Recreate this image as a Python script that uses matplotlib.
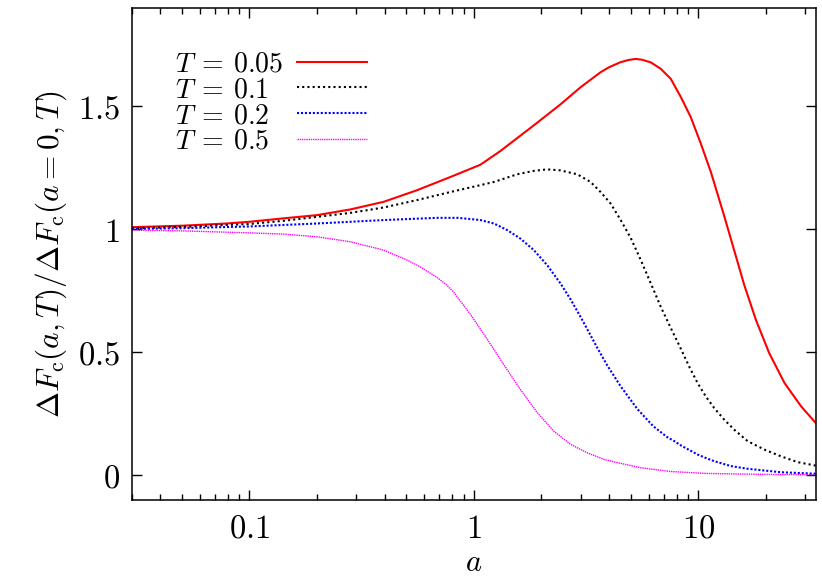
import matplotlib
matplotlib.use("Agg")
import matplotlib.pyplot as plt
from matplotlib.ticker import FixedLocator, FixedFormatter, LogLocator, NullFormatter

plt.rcParams['mathtext.fontset'] = 'cm'
plt.rcParams['font.family'] = ['DejaVu Serif']

# T = 0.05
a_005 = [0.03, 0.05, 0.079, 0.1, 0.142, 0.2, 0.281, 0.396, 0.557, 0.786, 1.07, 1.31, 1.85,
         2.43, 2.99, 3.67, 4.0, 4.51, 4.9, 5.26, 5.6, 6.14, 6.80, 7.54, 8.36, 9.26, 10.26, 11.37, 12.60,
         13.04, 14.45, 16.01, 18.06, 20.7, 24.2, 28.7, 33.3]
y_005 = [1.009, 1.015, 1.024, 1.031, 1.045, 1.058, 1.081, 1.112, 1.159, 1.213, 1.263, 1.318, 1.423,
         1.508, 1.578, 1.639, 1.659, 1.680, 1.689, 1.693, 1.690, 1.679, 1.653, 1.612, 1.538, 1.456, 1.349, 1.234, 1.100,
         1.055, 0.915, 0.775, 0.632, 0.497, 0.376, 0.281, 0.214]
# T = 0.1
a_01 = [0.03, 0.05, 0.1, 0.142, 0.2, 0.281, 0.396, 0.557, 0.786, 1.07, 1.23, 1.56, 1.85, 2.12,
        2.43, 2.89, 3.31, 3.67, 4.07, 4.51, 5.0, 5.54, 6.14, 6.80, 7.54, 8.20, 9.10, 9.92, 10.80,
        11.77, 13.04, 14.45, 16.6, 19.7, 23.3, 27.7, 33.3]
y_01 = [1.005, 1.010, 1.022, 1.035, 1.051, 1.067, 1.089, 1.119, 1.152, 1.180, 1.193, 1.224, 1.238, 1.244,
        1.240, 1.224, 1.193, 1.152, 1.105, 1.038, 0.965, 0.876, 0.781, 0.686, 0.599, 0.531, 0.443, 0.376, 0.321,
        0.274, 0.227, 0.186, 0.139, 0.105, 0.078, 0.054, 0.040]
# T = 0.2
a_02 = [0.03, 0.05, 0.1, 0.2, 0.396, 0.685, 0.85, 1.07, 1.23, 1.41, 1.61, 1.85, 2.12, 2.43, 2.70,
        2.99, 3.31, 3.55, 3.93, 4.51, 5.35, 6.3, 7.28, 7.8, 8.36, 9.92, 11.0, 11.77, 13.96, 16.6,
        23.3, 33.3]
y_02 = [1.002, 1.005, 1.012, 1.024, 1.038, 1.047, 1.047, 1.038, 1.024, 0.997, 0.963, 0.916, 0.855, 0.781, 0.715,
        0.644, 0.570, 0.518, 0.447, 0.362, 0.270, 0.200, 0.155, 0.140, 0.122, 0.085, 0.068, 0.058, 0.038, 0.027,
        0.013, 0.007]
# T = 0.5
a_05 = [0.03, 0.05, 0.1, 0.142, 0.2, 0.281, 0.396, 0.503, 0.577, 0.685, 0.75, 0.813, 0.965, 1.145, 1.36,
        1.61, 1.91, 2.27, 2.70, 3.20, 3.80, 4.51, 5.54, 7.5, 10.9, 20.0, 33.3]
y_05 = [0.997, 0.994, 0.986, 0.981, 0.970, 0.950, 0.916, 0.876, 0.848, 0.805, 0.777, 0.745, 0.655, 0.555, 0.450,
        0.350, 0.257, 0.180, 0.126, 0.092, 0.065, 0.049, 0.031, 0.016, 0.008, 0.004, 0.003]

labels = [r"$T\:=\:0.05$", r"$T\:=\:0.1$", r"$T\:=\:0.2$", r"$T\:=\:0.5$"]
xticks = [0.1, 1, 10]
xticklabels = [r"$0.1$", r"$1$", r"$10$"]
yticks = [0, 0.5, 1, 1.5]
yticklabels = [r"$0$", r"$0.5$", r"$1$", r"$1.5$"]

fig = plt.figure(figsize=(8.22, 5.8), dpi=100)
ax = fig.add_axes([0.1606, 0.1379, 0.9923 - 0.1606, 0.9862 - 0.1379])

l1, = ax.plot(a_005, y_005, color='#ff0000', lw=1.5, linestyle='-')
l2, = ax.plot(a_01, y_01, color='black', lw=1.5, linestyle=(0, (1, 1.5)))
l3, = ax.plot(a_02, y_02, color='#0000ff', lw=1.5, linestyle=(0, (1, 0.9)))
l4, = ax.plot(a_05, y_05, color='#ff00ff', lw=1.0, linestyle=(0, (1, 0.6)))

ax.set_xscale('log')
ax.set_xlim(0.03, 1 / 0.03)
ax.set_ylim(-0.1, 1.9)
ax.xaxis.set_major_locator(FixedLocator(xticks))
ax.xaxis.set_major_formatter(FixedFormatter(xticklabels))
ax.xaxis.set_minor_locator(LogLocator(base=10, subs=range(2, 10)))
ax.xaxis.set_minor_formatter(NullFormatter())
ax.yaxis.set_major_locator(FixedLocator(yticks))
ax.yaxis.set_major_formatter(FixedFormatter(yticklabels))

ax.tick_params(which='both', direction='in', top=True, right=True, width=1.0, labelsize=23.5)
ax.tick_params(which='major', length=7, pad=9)
ax.tick_params(which='minor', length=4)
for s in ax.spines.values():
    s.set_linewidth(1.1)

ax.set_xlabel(r"$a$", fontsize=22, labelpad=2)
ax.set_ylabel(r"$\Delta F_{\rm c}(a,T)/\Delta F_{\rm c}(a=0,T)$", fontsize=22.5, labelpad=6)

leg = ax.legend([l1, l2, l3, l4], labels, loc='upper left', bbox_to_anchor=(0.063, 0.914),
                frameon=False, markerfirst=False, fontsize=20, handlelength=2.5,
                handletextpad=0.5, labelspacing=-0.04, borderpad=0, borderaxespad=0)

# left-justify label texts while keeping the line samples aligned
fig.canvas.draw()
r = fig.canvas.get_renderer()
texts = leg.get_texts()
widths = [t.get_window_extent(r).width for t in texts]
wmax = max(widths)
col = leg._legend_handle_box.get_children()[0]
for item, w in zip(col.get_children(), widths):
    item.sep = item.sep + (wmax - w) * 72.0 / fig.dpi

fig.savefig("out.png", dpi=100)
